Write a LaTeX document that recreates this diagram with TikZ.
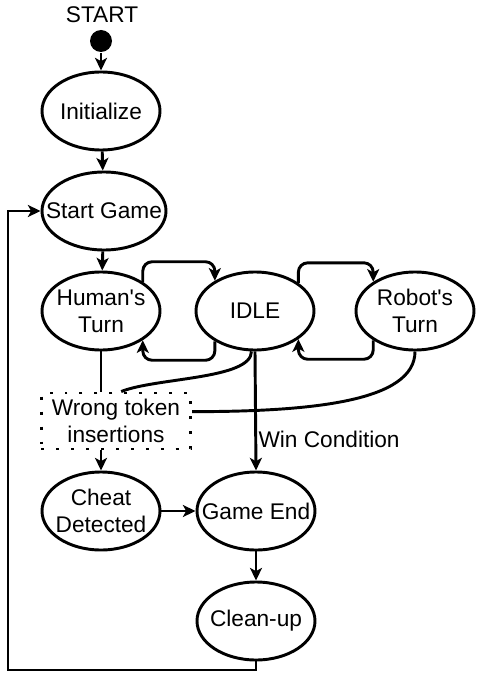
\documentclass[tikz,border=0pt]{standalone}
\usepackage{fontspec}
\setmainfont{Liberation Sans}
\usetikzlibrary{shapes.geometric,arrows.meta}

\tikzset{
  state/.style={ellipse, draw, inner xsep=-20pt, inner ysep=-4pt, minimum width=88.5pt, minimum height=58.5pt, align=center, font=\fontsize{17}{20}\selectfont},
  dotbox/.style={rectangle, draw, dash pattern=on 2.2pt off 9pt, inner sep=0pt, minimum width=112pt, minimum height=42pt, align=center, font=\fontsize{17}{20}\selectfont},
  flow/.style={-{Stealth[length=9.5pt,width=9pt,inset=2.5pt]}},
  lbl/.style={inner sep=1pt, font=\fontsize{17}{20}\selectfont},
}

\begin{document}
\begin{tikzpicture}[x=0.75pt,y=0.75pt,yscale=-1,xscale=1,line width=2.2pt]
\useasboundingbox (0,0) rectangle (478,681);

% States
\node (starttext) at (102,15) [lbl] {START};
\node (startdot) at (101,41) [circle, fill, inner sep=0pt, minimum size=16.5pt] {};
\node[state] (init) at (101,111) {Initialize};
\node[state, minimum width=93pt] (startgame) at (104,211) {Start Game};
\node[state] (human) at (101,311) {Human\textquotesingle s\\Turn};
\node[state] (idle) at (255,311) {IDLE};
\node[state] (robot) at (415,311) {Robot\textquotesingle s\\Turn};
\node[dotbox] (wrong) at (116,421) {Wrong token\\insertions};
\node[state] (cheat) at (101,511) {Cheat\\Detected};
\node[state] (gameend) at (256,511) {Game End};
\node[state] (cleanup) at (256,621) {Clean-up};
\coordinate (back) at (8,670);

% Start-up
\draw[flow] (startdot) -- (init);
\draw[flow] (init) -- (startgame);
\draw[flow] (startgame) -- (human);

% Turns
\draw[flow, rounded corners=7pt] (human.35) -- ++(0,-20) -| (idle.143);
\draw[flow, rounded corners=7pt] (idle.217) -- ++(0,19) -| (human.325);
\draw[flow, rounded corners=7pt] (idle.33) -- ++(0,-20) -| (robot.145);
\draw[flow, rounded corners=7pt] (robot.215) -- ++(0,19) -| (idle.327);

% Cheating
\draw (human.south) -- (human.south |- wrong.north);
\draw (idle.265) .. controls +(0,28) and +(35,-14) .. (wrong.80);
\draw (robot.south) .. controls +(0,50) and +(120,0) .. (wrong.7);
\draw[flow] (cheat.north |- wrong.south) -- (cheat.north);

% End of game
\draw[flow] (idle.south) -- node[lbl, pos=0.74, anchor=west] (wincond) {Win Condition} (gameend.north);
\draw[flow] (cheat) -- (gameend);
\draw[flow] (gameend) -- (cleanup);
\draw[flow] (cleanup.south) |- (back) |- (startgame.west);

\end{tikzpicture}
\end{document}
